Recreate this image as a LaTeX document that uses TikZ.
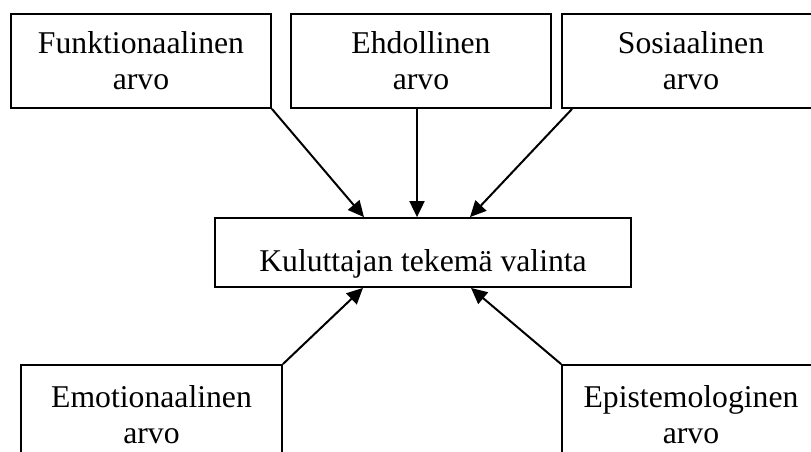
\documentclass[tikz,border=0pt]{standalone}
\usepackage{fontspec}
\setmainfont{Liberation Serif}
\usetikzlibrary{arrows.meta,calc}
\begin{document}
\begin{tikzpicture}[x=1pt,y=-1pt,
  valuebox/.style={draw,line width=1.8pt,rectangle,align=center,
    inner sep=0pt,font=\fontsize{31.7}{36}\selectfont},
  arr/.style={line width=2pt,-{Triangle[length=16pt,width=15pt]}}]
  \clip (0,0) rectangle (811,452);
  \fill[white] (0,0) rectangle (811,452);
  % upper row of value boxes
  \node[valuebox,minimum width=260,minimum height=94] (f) at (141,61)
    {Funktionaalinen\\arvo};
  \node[valuebox,minimum width=260,minimum height=94] (e) at (421,61)
    {Ehdollinen\\arvo};
  \node[valuebox,minimum width=258,minimum height=94] (s) at (691,61)
    {Sosiaalinen\\arvo};
  % central choice box
  \node[valuebox,minimum width=416,minimum height=69,
    text height=37pt,text depth=0pt] (k) at (423,252.5)
    {Kuluttajan tekemä valinta};
  % lower row of value boxes, running past the lower edge
  \node[valuebox,minimum width=261,minimum height=100] (em) at (151.5,415)
    {Emotionaalinen\\arvo};
  \node[valuebox,minimum width=258,minimum height=100] (ep) at (691,415)
    {Epistemologinen\\arvo};
  % influences on the choice
  \draw[arr] (f.south east) -- ($(k.north)+(-59,0)$);
  \draw[arr] ($(e.south)+(-4,0)$) -- ($(k.north)+(-6,0)$);
  \draw[arr] ($(s.south west)+(11,0)$) -- ($(k.north)+(47,0)$);
  \draw[arr] (em.north east) -- ($(k.south)+(-60,0)$);
  \draw[arr] (ep.north west) -- ($(k.south)+(48,0)$);
\end{tikzpicture}
\end{document}
